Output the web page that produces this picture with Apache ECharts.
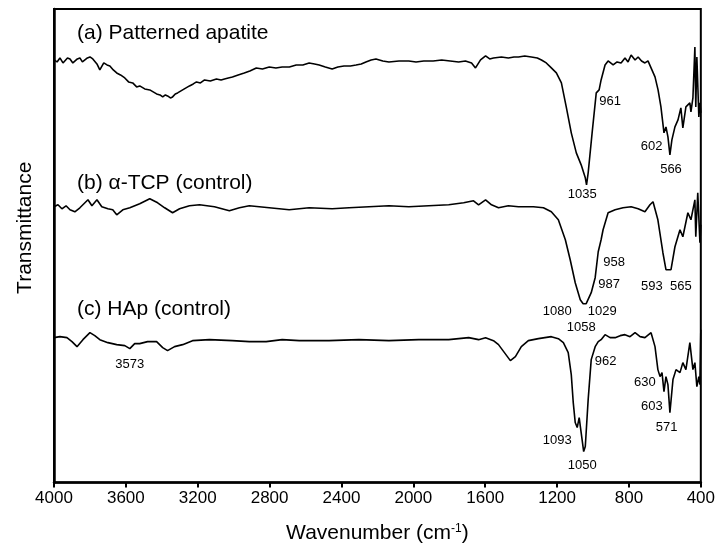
<!DOCTYPE html>
<html>
<head>
<meta charset="utf-8">
<script src="https://cdn.jsdelivr.net/npm/echarts@6/dist/echarts.min.js"></script>
<style>
  html, body { margin: 0; padding: 0; background: #fff; }
  #chart { width: 718px; height: 549px; }
</style>
</head>
<body>
<div id="chart"></div>
<script>
// FTIR spectra, offset vertically (arbitrary transmittance units)
const xTicks = [4000, 3600, 3200, 2800, 2400, 2000, 1600, 1200, 800, 400];

// (a) Patterned apatite: [wavenumber, transmittance]
const patternedApatite = [
  [4000, 423], [3983, 421], [3967, 425], [3950, 420], [3939, 421], [3925, 425],
  [3911, 424], [3895, 420], [3884, 422], [3870, 424], [3856, 425], [3842, 421],
  [3828, 423], [3814, 425], [3800, 426], [3784, 424], [3761, 419], [3745, 413],
  [3723, 420], [3705, 418], [3689, 417], [3670, 413], [3651, 410], [3630, 408],
  [3606, 405], [3585, 401], [3562, 400], [3540, 396], [3523, 397], [3495, 394],
  [3467, 393], [3448, 391], [3429, 389], [3410, 388], [3395, 386], [3380, 388],
  [3368, 387], [3352, 385], [3340, 386], [3325, 389], [3312, 390], [3284, 393],
  [3265, 395], [3246, 397], [3225, 399], [3207, 401], [3185, 400], [3162, 403],
  [3130, 402], [3096, 404], [3070, 403], [3051, 404], [3030, 405], [3007, 406],
  [2975, 408], [2941, 410], [2910, 412], [2874, 415], [2840, 414], [2802, 416],
  [2765, 415], [2730, 416], [2690, 416], [2652, 418], [2615, 418], [2580, 420],
  [2550, 419], [2524, 418], [2490, 416], [2452, 414], [2420, 416], [2386, 417],
  [2350, 417], [2319, 418], [2290, 419], [2264, 421], [2235, 423], [2208, 424],
  [2170, 422], [2136, 421], [2080, 422], [2025, 422], [1985, 421], [1942, 422],
  [1890, 422], [1842, 423], [1795, 422], [1748, 421], [1710, 422], [1676, 420],
  [1654, 415], [1626, 423], [1598, 427], [1575, 424], [1554, 425], [1510, 426],
  [1471, 425], [1440, 426], [1415, 426], [1380, 427], [1343, 426], [1310, 425],
  [1287, 423], [1260, 420], [1232, 415], [1204, 410], [1176, 400], [1149, 376],
  [1121, 350], [1093, 330], [1066, 318], [1043, 305], [1036, 298], [1027, 310],
  [1005, 350], [982, 390], [966, 393], [955, 403], [933, 418], [916, 422],
  [888, 418], [866, 421], [844, 420], [822, 425], [805, 421], [788, 428],
  [766, 423], [749, 426], [730, 422], [711, 420], [694, 422], [677, 415],
  [655, 406], [638, 393], [622, 376], [605, 350], [594, 356], [583, 346],
  [572, 328], [561, 343], [544, 356], [527, 363], [511, 375], [500, 355],
  [483, 376], [461, 380], [455, 371], [444, 385], [433, 436], [428, 376],
  [422, 426], [411, 366], [405, 380], [400, 370]
];

// (b) alpha-TCP (control)
const alphaTCP = [
  [4000, 276], [3978, 278], [3956, 274], [3933, 277], [3911, 273], [3884, 271],
  [3856, 275], [3811, 283], [3789, 277], [3761, 283], [3734, 276], [3700, 274],
  [3673, 273], [3651, 268], [3617, 273], [3578, 275], [3523, 279], [3467, 284],
  [3423, 280], [3384, 275], [3340, 270], [3301, 274], [3246, 277], [3190, 278],
  [3107, 276], [3024, 272], [2968, 275], [2913, 277], [2802, 275], [2691, 273],
  [2580, 275], [2452, 274], [2358, 275], [2247, 276], [2136, 277], [2025, 276],
  [1914, 277], [1803, 278], [1720, 280], [1665, 282], [1637, 278], [1598, 283],
  [1565, 278], [1526, 275], [1471, 277], [1415, 276], [1332, 276], [1276, 275],
  [1232, 271], [1193, 263], [1154, 243], [1127, 223], [1099, 200], [1071, 183],
  [1055, 179], [1038, 179], [1027, 180], [1010, 190], [988, 205], [971, 231],
  [955, 243], [944, 253], [916, 270], [877, 273], [833, 275], [788, 276],
  [749, 274], [711, 271], [683, 278], [666, 281], [639, 263], [611, 230],
  [594, 213], [566, 213], [544, 236], [516, 253], [500, 246], [472, 270],
  [455, 263], [433, 283], [428, 246], [417, 290], [405, 240], [400, 258]
];

// (c) HAp (control)
const hapControl = [
  [4000, 145], [3967, 146], [3928, 145], [3900, 141], [3872, 136], [3839, 143],
  [3800, 150], [3773, 147], [3745, 143], [3700, 140], [3651, 138], [3606, 137],
  [3578, 134], [3551, 139], [3523, 139], [3479, 141], [3429, 141], [3395, 135],
  [3368, 132], [3329, 136], [3284, 138], [3229, 142], [3135, 143], [3007, 142],
  [2913, 141], [2819, 141], [2730, 143], [2635, 142], [2469, 142], [2303, 143],
  [2136, 142], [1970, 143], [1803, 143], [1692, 145], [1637, 143], [1598, 145],
  [1554, 142], [1526, 138], [1493, 130], [1460, 122], [1432, 126], [1399, 136],
  [1360, 142], [1304, 144], [1232, 146], [1193, 144], [1165, 140], [1138, 130],
  [1121, 108], [1110, 80], [1099, 60], [1088, 55], [1077, 65], [1066, 50],
  [1052, 31], [1043, 36], [1027, 83], [1010, 123], [988, 136], [971, 141],
  [955, 143], [933, 148], [905, 145], [877, 145], [849, 147], [822, 148],
  [794, 146], [766, 150], [738, 146], [711, 145], [677, 150], [655, 136],
  [639, 113], [627, 106], [616, 110], [605, 91], [594, 106], [583, 98],
  [572, 70], [555, 103], [538, 113], [516, 110], [500, 120], [483, 113],
  [461, 140], [444, 113], [433, 120], [422, 96], [411, 106], [405, 98],
  [400, 153]
];

// Series captions: [wavenumber, level, text]
const captions = [
  [3872, 450, "(a) Patterned apatite"],
  [3872, 300, "(b) \u03b1-TCP (control)"],
  [3872, 173, "(c) HAp (control)"]
];

// Band assignments: [wavenumber, level, text]
const bandLabels = [
  [905, 381, "961"], [674, 336, "602"], [566, 313, "566"], [1060, 288, "1035"],
  [883, 220, "958"], [910, 198, "987"], [672, 196, "593"], [511, 196, "565"],
  [1199, 171, "1080"], [949, 171, "1029"], [1066, 155, "1058"],
  [3578, 118, "3573"], [930, 121, "962"], [711, 100, "630"], [672, 76, "603"],
  [590, 55, "571"], [1199, 42, "1093"], [1060, 17, "1050"]
];

const FONT = "'Liberation Sans', Arial, Helvetica, sans-serif";

const chart = echarts.init(document.getElementById("chart"));

const spectrum = (name, data) => ({
  name: name,
  type: "line",
  data: data,
  showSymbol: false,
  symbol: "none",
  lineStyle: { color: "#000", width: 1.6 },
  animation: false
});

const textLayer = (name, data, size, align) => ({
  name: name,
  type: "scatter",
  data: data,
  symbolSize: 0,
  silent: true,
  itemStyle: { opacity: 1 },
  label: {
    show: true,
    position: "inside",
    align: align,
    verticalAlign: "middle",
    formatter: (p) => p.data[2],
    fontFamily: FONT,
    fontSize: size,
    color: "#000"
  }
});

const option = {
  backgroundColor: "#fff",
  animation: false,
  grid: {
    left: 54, right: 15, top: 9, bottom: 66,
    show: true, borderColor: "#000", borderWidth: 2, backgroundColor: "transparent"
  },
  xAxis: {
    type: "value",
    inverse: true,
    min: 400,
    max: 4000,
    interval: 400,
    name: "Wavenumber (cm{sup|-1})",
    nameLocation: "middle",
    nameGap: 40,
    nameTextStyle: {
      fontFamily: FONT, fontSize: 21, color: "#000",
      rich: { sup: { fontFamily: FONT, fontSize: 12, color: "#000", verticalAlign: "top", padding: [0, 0, 10, 0] } }
    },
    axisLine: { show: true, lineStyle: { color: "#000", width: 2.5 } },
    axisTick: { show: true, inside: false, length: 5, lineStyle: { color: "#000", width: 2 } },
    axisLabel: {
      fontFamily: FONT, fontSize: 17, color: "#000", margin: 7,
      formatter: (v) => (xTicks.includes(v) ? String(v) : "")
    },
    splitLine: { show: false }
  },
  yAxis: {
    type: "value",
    min: 0,
    max: 474,
    name: "Transmittance",
    nameLocation: "middle",
    nameGap: 18,
    nameRotate: 90,
    nameTextStyle: { fontFamily: FONT, fontSize: 21, color: "#000", padding: [0, 0, 0, 36] },
    axisLine: { show: true, lineStyle: { color: "#000", width: 2.5 } },
    axisTick: { show: false },
    axisLabel: { show: false },
    splitLine: { show: false }
  },
  series: [
    spectrum("(a) Patterned apatite", patternedApatite),
    spectrum("(b) \u03b1-TCP (control)", alphaTCP),
    spectrum("(c) HAp (control)", hapControl),
    textLayer("captions", captions, 21, "left"),
    textLayer("bands", bandLabels, 13, "center")
  ]
};

chart.setOption(option);
</script>
</body>
</html>
